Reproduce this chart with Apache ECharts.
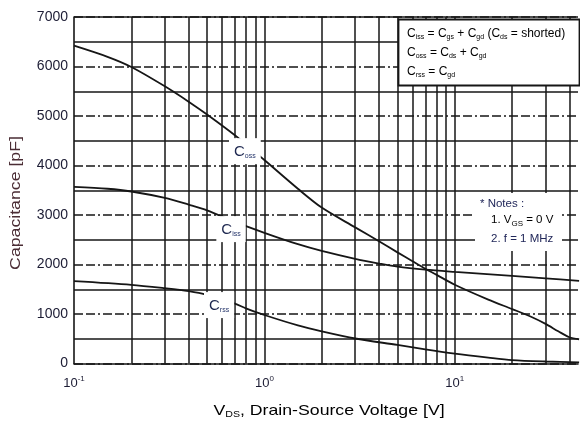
<!DOCTYPE html>
<html>
<head>
<meta charset="utf-8">
<script src="https://cdn.jsdelivr.net/npm/echarts@6/dist/echarts.min.js"></script>
<style>
  html, body { margin: 0; padding: 0; background: #fff; }
  #chart { width: 580px; height: 423px; }
</style>
</head>
<body>
<div id="chart"></div>
<script>
// Capacitance vs drain-source voltage (VGS = 0 V, f = 1 MHz)
const vCoss = [0.1, 0.15, 0.2, 0.3, 0.4, 0.5, 0.7, 1, 1.5, 2, 3, 4, 5, 6, 7, 8, 10, 15, 20, 25, 30, 35, 40, 45];
const coss  = [6420, 6195, 5990, 5600, 5290, 5030, 4610, 4110, 3530, 3150, 2750, 2470, 2245, 2065, 1915, 1795, 1590, 1290, 1100, 950, 800, 650, 530, 490];

const vCiss = [0.1, 0.15, 0.2, 0.3, 0.4, 0.5, 0.7, 1, 1.5, 2, 3, 4, 5, 7, 10, 20, 30, 45];
const ciss  = [3570, 3530, 3475, 3345, 3210, 3095, 2860, 2640, 2410, 2275, 2115, 2020, 1955, 1895, 1850, 1770, 1720, 1670];

const vCrss = [0.1, 0.2, 0.3, 0.4, 0.5, 0.7, 0.8, 1, 1.5, 2, 3, 5, 7, 10, 15, 20, 30, 45];
const crss  = [1665, 1590, 1520, 1460, 1385, 1210, 1115, 980, 770, 650, 505, 375, 285, 200, 120, 70, 40, 22];

// Grid values
const xMinorLines = [0.2, 0.3, 0.4, 0.5, 0.6, 0.7, 0.8, 0.9, 1, 2, 3, 4, 5, 6, 7, 8, 9, 10, 20, 30, 40];
const ySolidLines = [500, 1500, 2500, 3500, 4500, 5500, 6500, 7000];

// Curve name anchors [V, pF]
const curveLabels = [
  { name: 'oss', at: [0.79, 4290] },
  { name: 'iss', at: [0.668, 2715] },
  { name: 'rss', at: [0.578, 1180] }
];

const INK = '#161616';
const TXT = '#1c1c34';
const FONT = '"Liberation Sans", Arial, sans-serif';

const pairs = (xs, ys) => xs.map((x, i) => [x, ys[i]]);

const chart = echarts.init(document.getElementById('chart'), null, { renderer: 'canvas' });

const curve = (data) => ({
  type: 'line', data, z: 4, smooth: 0.3, symbol: 'none', silent: true,
  lineStyle: { color: INK, width: 1.8 }
});

const sub = (size, pad, color) => ({ fontFamily: FONT, fontSize: size, color, padding: [pad, 0, 0, 0] });

chart.setOption({
  animation: false,
  backgroundColor: '#fff',
  grid: { left: 74, top: 17, width: 504, height: 346.5, containLabel: false, outerBoundsMode: 'none' },
  xAxis: {
    type: 'log', logBase: 10, min: 0.1, max: 44.4,
    axisLine: { show: true, onZero: false, lineStyle: { color: INK, width: 1.6 } },
    axisTick: { show: false },
    splitLine: { show: false },
    axisLabel: {
      margin: 11, showMaxLabel: false,
      formatter: (v) => {
        const l = Math.log10(v);
        if (Math.abs(l - Math.round(l)) > 1e-6) return '';
        return '{b|10}{s|' + Math.round(l) + '}';
      },
      rich: {
        b: { fontFamily: FONT, fontSize: 13, color: TXT },
        s: { fontFamily: FONT, fontSize: 8, color: TXT, padding: [0, 0, 9, 0] }
      }
    }
  },
  yAxis: {
    type: 'value', min: 0, max: 7000, interval: 1000,
    axisLine: { show: true, lineStyle: { color: INK, width: 1.6 } },
    axisTick: { show: false },
    axisLabel: { margin: 6, fontFamily: FONT, fontSize: 14, color: TXT, formatter: (v) => String(v) },
    splitLine: { show: true, lineStyle: { color: INK, width: 1.5, type: [9, 3, 9, 3, 2, 3] } }
  },
  series: [
    {
      type: 'line', data: [], silent: true, z: 2,
      markLine: {
        silent: true, symbol: 'none', label: { show: false },
        lineStyle: { color: INK, width: 1.5, type: 'solid' },
        data: xMinorLines.map(v => ({ xAxis: v })).concat(ySolidLines.map(v => ({ yAxis: v })))
      }
    },
    curve(pairs(vCoss, coss)),
    curve(pairs(vCiss, ciss)),
    curve(pairs(vCrss, crss)),
    {
      type: 'scatter', z: 8, silent: true, symbolSize: 0,
      itemStyle: { opacity: 1 },
      data: curveLabels.map(l => ({ value: l.at, name: l.name })),
      label: {
        show: true, position: 'inside', opacity: 1,
        backgroundColor: '#ffffff', padding: [6, 5, 5, 5],
        formatter: (p) => '{c|C}{s|' + p.name + '}',
        rich: {
          c: { fontFamily: FONT, fontSize: 15, color: '#1e2850' },
          s: sub(7, 8, '#24346a')
        }
      }
    }
  ],
  graphic: [
    // formula box
    {
      type: 'rect', z: 100, shape: { x: 398.5, y: 19.5, width: 181, height: 66 },
      style: { fill: '#fff', stroke: INK, lineWidth: 1.8 }
    },
    {
      type: 'text', z: 101, x: 407, y: 34,
      style: {
        text: '{c|C}{s|iss}{c| = C}{s|gs}{c| + C}{s|gd}{c| (C}{s|ds}{c| = shorted)}',
        verticalAlign: 'middle', textVerticalAlign: 'middle',
        rich: { c: { fontFamily: FONT, fontSize: 12, color: TXT }, s: sub(7, 6, TXT) }
      }
    },
    {
      type: 'text', z: 101, x: 407, y: 53,
      style: {
        text: '{c|C}{s|oss}{c| = C}{s|ds}{c| + C}{s|gd}',
        verticalAlign: 'middle', textVerticalAlign: 'middle',
        rich: { c: { fontFamily: FONT, fontSize: 12, color: TXT }, s: sub(7, 6, TXT) }
      }
    },
    {
      type: 'text', z: 101, x: 407, y: 72,
      style: {
        text: '{c|C}{s|rss}{c| = C}{s|gd}',
        verticalAlign: 'middle', textVerticalAlign: 'middle',
        rich: { c: { fontFamily: FONT, fontSize: 12, color: TXT }, s: sub(7, 6, TXT) }
      }
    },
    // test conditions
    {
      type: 'rect', z: 100, shape: { x: 475, y: 193, width: 87, height: 58 },
      style: { fill: '#fff', stroke: null }
    },
    {
      type: 'text', z: 101, x: 480, y: 204,
      style: { text: '* Notes :', fontFamily: FONT, fontSize: 11.5, fill: '#22285a',
               verticalAlign: 'middle', textVerticalAlign: 'middle' }
    },
    {
      type: 'text', z: 101, x: 491, y: 220,
      style: {
        text: '{c|1. V}{s|GS}{c| = 0 V}',
        verticalAlign: 'middle', textVerticalAlign: 'middle',
        rich: { c: { fontFamily: FONT, fontSize: 11.5, color: '#22285a' }, s: sub(8, 7, '#22285a') }
      }
    },
    {
      type: 'text', z: 101, x: 491, y: 239,
      style: { text: '2. f = 1 MHz', fontFamily: FONT, fontSize: 11.5, fill: '#22285a',
               verticalAlign: 'middle', textVerticalAlign: 'middle' }
    },
    // axis titles
    {
      type: 'text', z: 101, x: 329, y: 411, scaleX: 1.18,
      style: {
        text: '{c|V}{s|DS}{c|, Drain-Source Voltage [V]}',
        align: 'center', textAlign: 'center', verticalAlign: 'middle', textVerticalAlign: 'middle',
        rich: { c: { fontFamily: FONT, fontSize: 15, color: '#22224a' }, s: sub(9, 8, '#22224a') }
      }
    },
    {
      type: 'text', z: 101, x: 16, y: 203, rotation: Math.PI / 2, scaleX: 1.18,
      style: {
        text: 'Capacitance [pF]', fontFamily: FONT, fontSize: 15, fill: '#4a2c34',
        align: 'center', textAlign: 'center', verticalAlign: 'middle', textVerticalAlign: 'middle'
      }
    }
  ]
});
</script>
</body>
</html>
